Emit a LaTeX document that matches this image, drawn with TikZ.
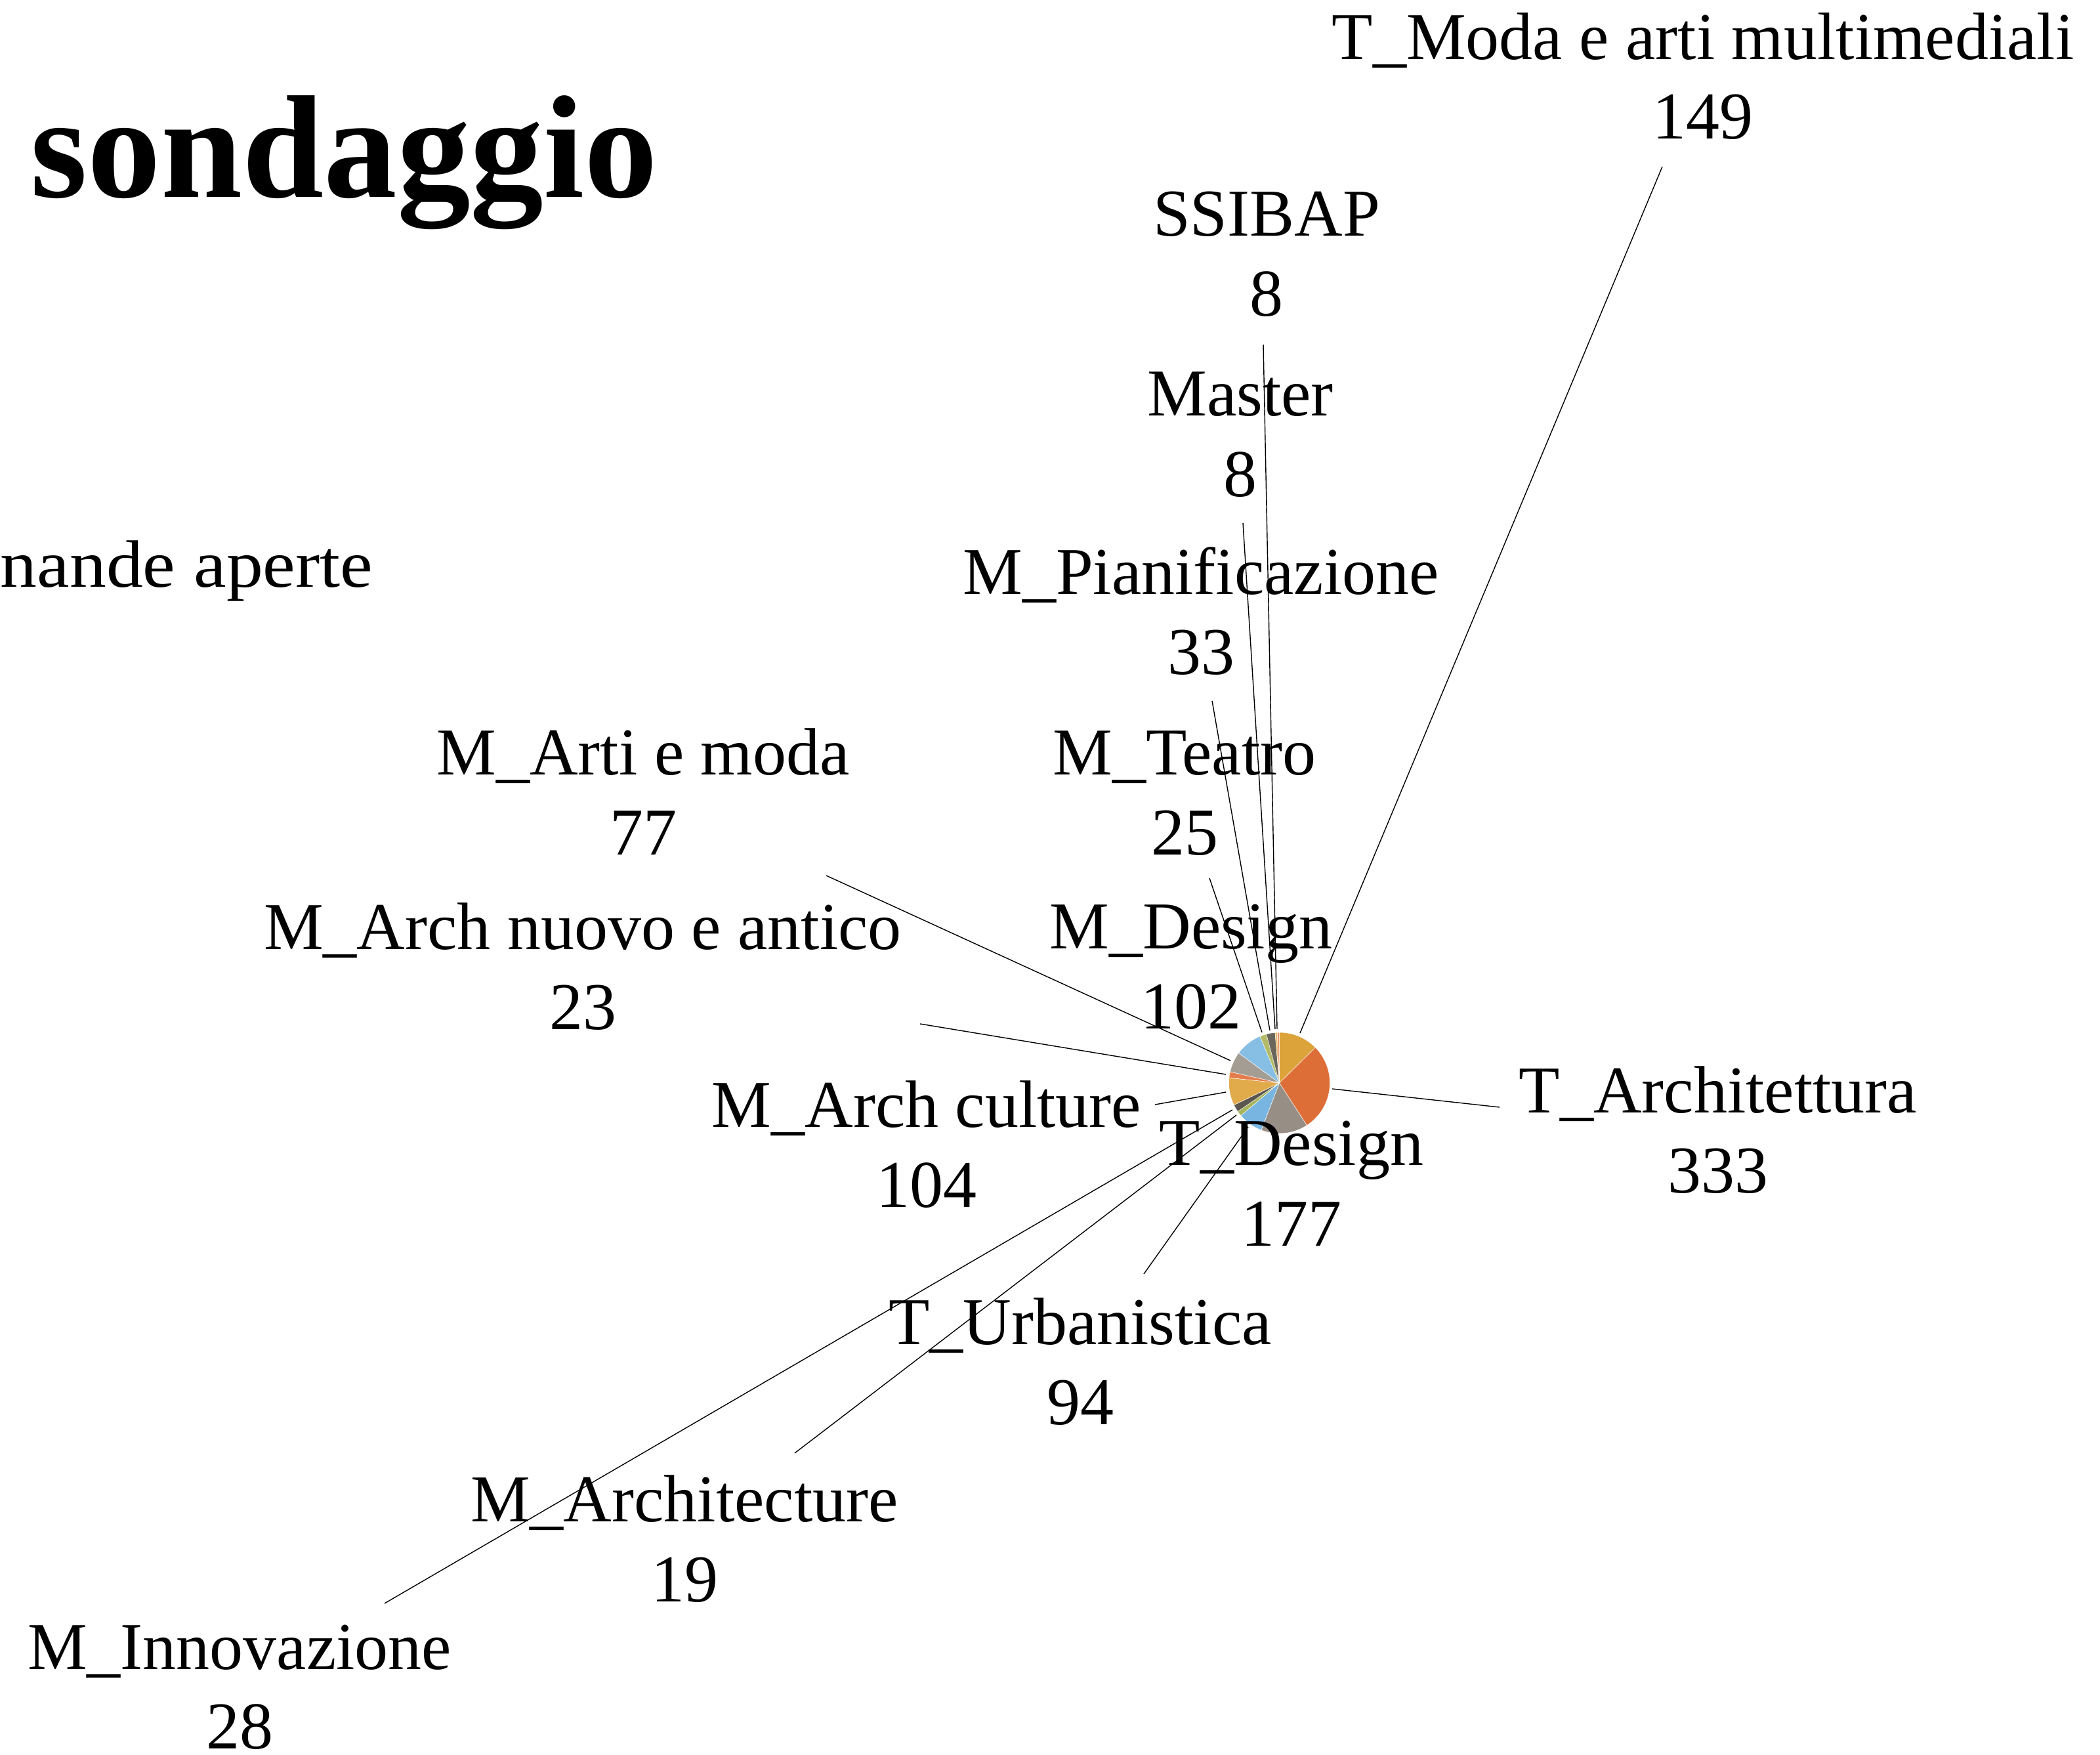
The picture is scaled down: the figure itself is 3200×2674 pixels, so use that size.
\documentclass[tikz,border=0pt]{standalone}
\usepackage{fontspec}
\setmainfont{Liberation Serif}
\newcommand\lblfont{\fontsize{25.5pt}{30pt}\selectfont}
\definecolor{goldA}{HTML}{DCA33B}
\definecolor{orangeA}{HTML}{DE6E37}
\definecolor{grayA}{HTML}{978F85}
\definecolor{blueA}{HTML}{78B6E1}
\definecolor{greenA}{HTML}{A8B45A}
\definecolor{dgrayA}{HTML}{5B574E}
\definecolor{goldB}{HTML}{E1AB4C}
\definecolor{orangeB}{HTML}{E47D4C}
\definecolor{grayB}{HTML}{A49D94}
\definecolor{blueB}{HTML}{86BEE4}
\definecolor{greenB}{HTML}{B3BB68}
\definecolor{dgrayB}{HTML}{6B665C}
\definecolor{goldC}{HTML}{E8BC6C}
\definecolor{orangeC}{HTML}{EA9466}
\begin{document}
\begin{tikzpicture}[x=0.25pt,y=-0.25pt,
  lbl/.style={anchor=base,inner sep=0pt,font=\lblfont},
  leader/.style={draw=black,line width=0.35pt},
  slice/.style={draw=white,line width=0.12pt}]
\useasboundingbox (0,0) rectangle (3200,2674);
% pie
\coordinate (pie) at (1949.5,1650);
\begin{scope}[shift={(1949.5,1650)},x=0.25pt,y=0.25pt]
\filldraw[slice,fill=goldA]   (0,0) -- (90:77) arc[start angle=90,end angle=44.54,radius=77] -- cycle;
\filldraw[slice,fill=orangeA] (0,0) -- (44.54:77) arc[start angle=44.54,end angle=-57.05,radius=77] -- cycle;
\filldraw[slice,fill=grayA]   (0,0) -- (-57.05:77) arc[start angle=-57.05,end angle=-111.05,radius=77] -- cycle;
\filldraw[slice,fill=blueA]   (0,0) -- (-111.05:77) arc[start angle=-111.05,end angle=-139.73,radius=77] -- cycle;
\filldraw[slice,fill=greenA]  (0,0) -- (-139.73:77) arc[start angle=-139.73,end angle=-145.53,radius=77] -- cycle;
\filldraw[slice,fill=dgrayA]  (0,0) -- (-145.53:77) arc[start angle=-145.53,end angle=-154.07,radius=77] -- cycle;
\filldraw[slice,fill=goldB]   (0,0) -- (-154.07:77) arc[start angle=-154.07,end angle=-185.80,radius=77] -- cycle;
\filldraw[slice,fill=orangeB] (0,0) -- (-185.80:77) arc[start angle=-185.80,end angle=-192.81,radius=77] -- cycle;
\filldraw[slice,fill=grayB]   (0,0) -- (-192.81:77) arc[start angle=-192.81,end angle=-216.31,radius=77] -- cycle;
\filldraw[slice,fill=blueB]   (0,0) -- (-216.31:77) arc[start angle=-216.31,end angle=-247.42,radius=77] -- cycle;
\filldraw[slice,fill=greenB]  (0,0) -- (-247.42:77) arc[start angle=-247.42,end angle=-255.05,radius=77] -- cycle;
\filldraw[slice,fill=dgrayB]  (0,0) -- (-255.05:77) arc[start angle=-255.05,end angle=-265.12,radius=77] -- cycle;
\filldraw[slice,fill=goldC]   (0,0) -- (-265.12:77) arc[start angle=-265.12,end angle=-267.56,radius=77] -- cycle;
\filldraw[slice,fill=orangeC] (0,0) -- (-267.56:77) arc[start angle=-267.56,end angle=-270,radius=77] -- cycle;
\end{scope}
% title and subtitle
\node[anchor=base west,inner sep=0pt,font=\fontsize{55.8pt}{60pt}\selectfont\bfseries] (title) at (46,301) {sondaggio};
\node[anchor=base east,inner sep=0pt,font=\lblfont] (sub) at (569,894) {\scalebox{1.095}[1]{nande aperte}};
% labels
\node[lbl] (tmoda) at (2595,91) {T\_Moda e arti multimediali};
\node[lbl] (tmodan) at (2595,212) {149};
\node[lbl] (ssibap) at (1930,360) {SSIBAP};
\node[lbl] (ssibapn) at (1930,482) {8};
\node[lbl] (master) at (1890,633) {Master};
\node[lbl] (mastern) at (1890,756) {8};
\node[lbl] (mpian) at (1830,905) {M\_Pianificazione};
\node[lbl] (mpiann) at (1830,1027) {33};
\node[lbl] (mteatro) at (1805,1180) {M\_Teatro};
\node[lbl] (mteatron) at (1805,1302) {25};
\node[lbl] (mdesign) at (1815,1445) {M\_Design};
\node[lbl] (mdesignn) at (1815,1567) {102};
\node[lbl] (marti) at (980,1180) {M\_Arti e moda};
\node[lbl] (martin) at (980,1302) {77};
\node[lbl] (mnuovo) at (888,1446) {M\_Arch nuovo e antico};
\node[lbl] (mnuovon) at (888,1568) {23};
\node[lbl] (mcult) at (1412,1717) {M\_Arch culture};
\node[lbl] (mcultn) at (1412,1839) {104};
\node[lbl] (tarch) at (2618,1695) {T\_Architettura};
\node[lbl] (tarchn) at (2618,1817) {333};
\node[lbl] (tdes) at (1968,1775) {T\_Design};
\node[lbl] (tdesn) at (1968,1898) {177};
\node[lbl] (turb) at (1646,2048) {T\_Urbanistica};
\node[lbl] (turbn) at (1646,2170) {94};
\node[lbl] (march) at (1043,2318) {M\_Architecture};
\node[lbl] (marchn) at (1043,2440) {19};
\node[lbl] (minno) at (365,2543) {M\_Innovazione};
\node[lbl] (minnon) at (365,2664) {28};
% leader end points
\coordinate (tmodaA) at (2533,254);   \coordinate (tmodaB) at (1981,1574);
\coordinate (ssibapA) at (1925,525);  \coordinate (ssibapB) at (1946,1568);
\coordinate (masterA) at (1894,797);  \coordinate (masterB) at (1943,1568);
\coordinate (mpianA) at (1847,1068);  \coordinate (mpianB) at (1935,1570);
\coordinate (mteatroA) at (1843,1338); \coordinate (mteatroB) at (1923,1573);
\coordinate (martiA) at (1259,1334);  \coordinate (martiB) at (1875,1616);
\coordinate (mnuovoA) at (1402,1560); \coordinate (mnuovoB) at (1868,1637);
\coordinate (mcultA) at (1760,1683);  \coordinate (mcultB) at (1868,1664);
\coordinate (tarchA) at (2285,1687);  \coordinate (tarchB) at (2030,1659);
\coordinate (turbA) at (1743,1941);   \coordinate (turbB) at (1902,1717);
\coordinate (marchA) at (1211,2214);  \coordinate (marchB) at (1884,1699);
\coordinate (minnoA) at (586,2443);   \coordinate (minnoB) at (1878,1691);
% leaders
\draw[leader] (tmodaA) -- (tmodaB);
\draw[leader] (ssibapA) -- (ssibapB);
\draw[leader] (masterA) -- (masterB);
\draw[leader] (mpianA) -- (mpianB);
\draw[leader] (mteatroA) -- (mteatroB);
\draw[leader] (martiA) -- (martiB);
\draw[leader] (mnuovoA) -- (mnuovoB);
\draw[leader] (mcultA) -- (mcultB);
\draw[leader] (tarchA) -- (tarchB);
\draw[leader] (turbA) -- (turbB);
\draw[leader] (marchA) -- (marchB);
\draw[leader] (minnoA) -- (minnoB);
\end{tikzpicture}
\end{document}
